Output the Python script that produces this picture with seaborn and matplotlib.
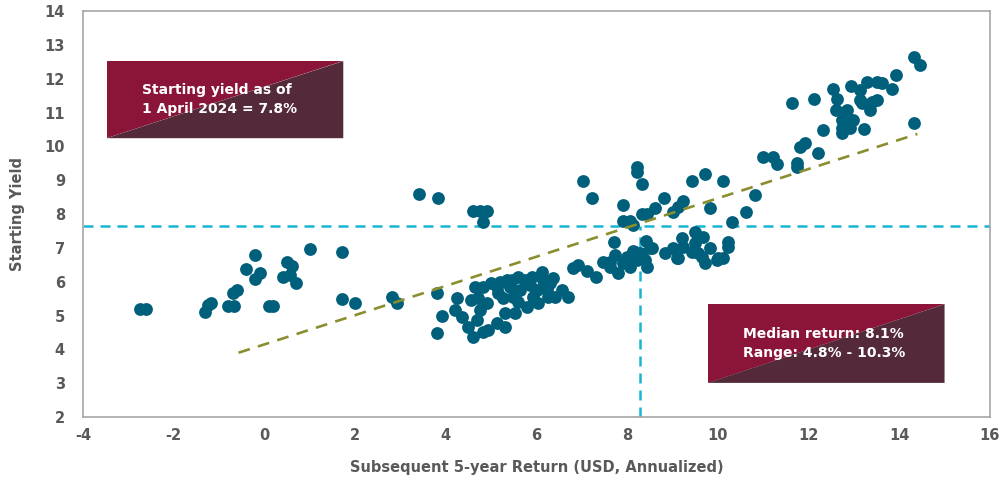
import matplotlib
matplotlib.use("Agg")
import matplotlib.pyplot as plt
from matplotlib.patches import Polygon
import seaborn as sns
import pandas as pd

# subsequent 5-year return (x) and starting yield (y)
ret_x = [
    -2.75, -2.62, -1.3, -1.25, -1.17, -0.8, -0.68, -0.7, -0.6, -0.4, -0.2, -0.2, -0.1,
    0.1, 0.2, 0.4, 0.5, 0.6, 0.57, 0.7, 1.0, 1.72, 1.72, 2.0, 2.82, 2.92,
    3.4, 3.82, 4.6, 4.76, 4.92, 4.82, 3.8, 3.92, 3.8,
    4.25, 4.2, 4.36, 4.49, 4.6, 4.65, 4.82, 4.71, 4.76, 4.69, 4.91, 4.82, 4.93, 5.13,
    5.31, 5.13, 5.15, 5.26, 5.31, 5.35, 5.46, 5.42, 5.48, 5.53, 5.59, 5.64, 5.75, 5.79,
    5.9, 5.92, 6.01, 6.12, 6.15, 6.04, 6.23, 6.26, 6.37, 6.41, 6.56, 6.7,
    4.55, 5.0, 5.2, 5.6, 5.85, 6.3,
    6.81, 6.92, 7.11, 7.31, 7.47, 7.62, 7.62, 7.73, 7.8, 7.91, 8.0, 8.06, 8.13, 8.17,
    8.28, 8.22, 8.35, 8.39, 8.44, 7.71, 8.41, 8.5, 8.55, 8.83, 9.01, 9.12, 9.1, 9.21,
    9.23, 9.49, 9.67, 9.49, 9.56, 9.71, 9.82, 10.0, 10.11, 10.22, 10.22, 9.43, 9.65, 9.98,
    7.03, 7.22, 8.22, 8.22, 8.33, 7.91, 7.91, 8.06, 8.13, 8.33, 8.44, 8.61, 8.81, 9.01,
    9.12, 9.23, 9.43, 9.71, 10.11, 9.82, 10.31, 10.62, 10.81,
    10.99, 11.21, 11.3, 11.74, 11.74, 11.81, 11.92, 12.2, 12.31, 11.63, 12.11, 12.53,
    12.62, 12.6, 12.84, 12.73, 12.73, 12.73, 12.97, 12.91, 12.93, 13.13, 13.3, 13.52,
    13.63, 13.92, 13.83, 13.13, 13.17, 13.35, 13.41, 13.52, 13.22, 14.32, 14.32, 14.45,
]
yield_y = [
    5.2, 5.2, 5.1, 5.3, 5.38, 5.28, 5.28, 5.66, 5.75, 6.37, 6.78, 6.08, 6.25,
    5.28, 5.28, 6.14, 6.58, 6.46, 6.2, 5.96, 6.97, 6.88, 5.48, 5.36, 5.56, 5.38,
    8.6, 8.48, 8.08, 8.08, 8.08, 7.76, 5.68, 4.98, 4.47,
    5.52, 5.16, 4.96, 4.66, 4.38, 5.84, 5.84, 5.52, 5.16, 4.88, 5.37, 4.52, 4.58, 4.78,
    4.66, 5.84, 5.66, 5.52, 5.07, 6.05, 6.05, 5.84, 5.55, 5.07, 6.14, 5.75, 6.05, 5.25,
    6.14, 5.55, 5.75, 6.29, 6.05, 5.37, 5.75, 5.55, 6.11, 5.55, 5.75, 5.55,
    5.45, 5.95, 6.0, 5.4, 5.9, 5.95,
    6.4, 6.48, 6.32, 6.15, 6.58, 6.58, 6.43, 6.79, 6.26, 6.55, 6.73, 6.43, 6.92, 6.88,
    6.85, 6.64, 6.7, 6.64, 6.43, 7.17, 7.2, 7.0, 7.0, 6.85, 7.0, 6.7, 6.7, 7.29,
    7.03, 7.47, 7.32, 7.14, 6.85, 6.55, 7.0, 6.7, 6.7, 7.17, 7.03, 6.88, 6.73, 6.64,
    8.98, 8.47, 9.39, 9.24, 8.89, 8.28, 7.8, 7.8, 7.67, 8.0, 8.0, 8.18, 8.47, 8.06,
    8.21, 8.39, 8.98, 9.18, 8.98, 8.18, 7.76, 8.06, 8.56,
    9.69, 9.69, 9.48, 9.51, 9.39, 9.98, 10.1, 9.8, 10.48, 11.28, 11.4, 11.7,
    11.4, 11.07, 11.07, 10.78, 10.54, 10.4, 10.78, 10.54, 11.78, 11.67, 11.9, 11.9,
    11.87, 12.11, 11.7, 11.37, 11.28, 11.07, 11.3, 11.37, 10.51, 10.69, 12.64, 12.4,
]

# fitted trend line end points
trend_x = [-0.57, 14.4]
trend_y = [3.9, 10.37]

current_yield = 7.65
median_return = 8.28

box1_text = "Starting yield as of\n1 April 2024 = 7.8%"
box2_text = "Median return: 8.1%\nRange: 4.8% - 10.3%"

df = pd.DataFrame({"Return": ret_x, "Yield": yield_y})

sns.set_theme(style="white")
plt.rcParams["font.family"] = ["DejaVu Sans"]
plt.rcParams["axes.unicode_minus"] = False

grey = "#595959"
fig = plt.figure(figsize=(10.06, 4.86), dpi=100)
ax = fig.add_axes([0.0825, 0.142, 0.9015, 0.835])

ax.axhline(current_yield, color="#17b5d3", lw=1.8, dashes=(4, 2.8), zorder=1)
ax.plot([median_return, median_return], [2, current_yield], color="#17b5d3",
        lw=1.8, dashes=(4, 2.8), zorder=1)

sns.scatterplot(data=df, x="Return", y="Yield", ax=ax, color="#005f7b",
                s=85, linewidth=0, zorder=3)

ax.plot(trend_x, trend_y, color="#8b8e2f", lw=1.9, dashes=(4.5, 3.2), zorder=4)

ax.set_xlim(-4, 16)
ax.set_ylim(2, 14)
ax.set_xticks(range(-4, 17, 2))
ax.set_yticks(range(2, 15))
ax.tick_params(axis="both", length=0, labelsize=10.5, labelcolor=grey)
ax.tick_params(axis="y", pad=13)
ax.tick_params(axis="x", pad=8)
for lab in ax.get_xticklabels() + ax.get_yticklabels():
    lab.set_fontweight("bold")

ax.set_xlabel("Subsequent 5-year Return (USD, Annualized)", fontsize=10.5,
              fontweight="bold", color=grey, labelpad=12)
ax.set_ylabel("Starting Yield", fontsize=10.5, fontweight="bold", color=grey,
              labelpad=14)

for sp in ax.spines.values():
    sp.set_color("#a6a6a6")
    sp.set_linewidth(1.2)


def two_tone_box(x0, y0, x1, y1, text, tx):
    tr = ax.transAxes
    ax.add_patch(Polygon([(x0, y0), (x0, y1), (x1, y1)], closed=True,
                         facecolor="#8a1538", edgecolor="none", transform=tr,
                         zorder=6, clip_on=False))
    ax.add_patch(Polygon([(x0, y0), (x1, y1), (x1, y0)], closed=True,
                         facecolor="#542a3a", edgecolor="none", transform=tr,
                         zorder=6, clip_on=False))
    ax.text(tx, (y0 + y1) / 2, text, transform=tr, color="white", fontsize=10,
            fontweight="bold", ha="left", va="center", linespacing=1.5, zorder=7)


two_tone_box(0.026, 0.687, 0.287, 0.877, box1_text, 0.065)
two_tone_box(0.689, 0.084, 0.950, 0.278, box2_text, 0.728)

fig.savefig("out.png", dpi=100)
